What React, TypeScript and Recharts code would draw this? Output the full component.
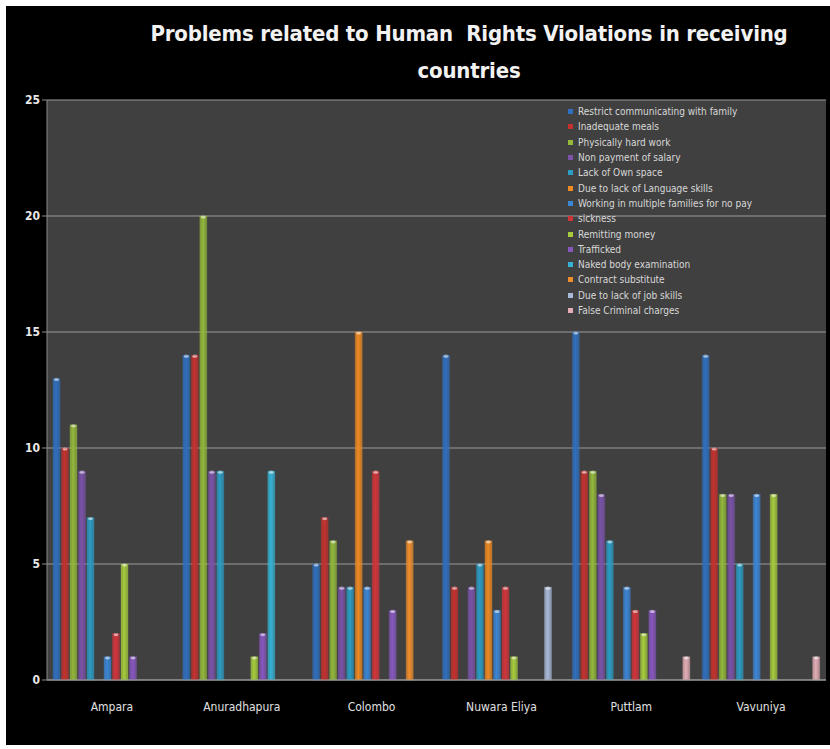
import { BarChart, Bar, XAxis, YAxis, CartesianGrid, Legend } from 'recharts'

const regions = ['Ampara', 'Anuradhapura', 'Colombo', 'Nuwara Eliya', 'Puttlam', 'Vavuniya']

const restrictComm = [13, 14, 5, 14, 15, 14]
const inadequateMeals = [10, 14, 7, 4, 9, 10]
const hardWork = [11, 20, 6, 0, 9, 8]
const nonPayment = [9, 9, 4, 4, 8, 8]
const ownSpace = [7, 9, 4, 5, 6, 5]
const languageSkills = [0, 0, 15, 6, 0, 0]
const multipleFamilies = [1, 0, 4, 3, 4, 8]
const sickness = [2, 0, 9, 4, 3, 0]
const remitting = [5, 1, 0, 1, 2, 8]
const trafficked = [1, 2, 3, 0, 3, 0]
const nakedBody = [0, 9, 0, 0, 0, 0]
const contractSub = [0, 0, 6, 0, 0, 0]
const jobSkills = [0, 0, 0, 4, 0, 0]
const falseCharges = [0, 0, 0, 0, 1, 1]

const yTicks = [0, 5, 10, 15, 20, 25]

const series = [
  { key: 's1', name: 'Restrict communicating with family', values: restrictComm, color: '#2f6fbf' },
  { key: 's2', name: 'Inadequate meals', values: inadequateMeals, color: '#c5312e' },
  { key: 's3', name: 'Physically hard work', values: hardWork, color: '#93b83a' },
  { key: 's4', name: 'Non payment of salary', values: nonPayment, color: '#7a52a8' },
  { key: 's5', name: 'Lack of Own  space', values: ownSpace, color: '#2b9cc4' },
  { key: 's6', name: 'Due to lack of  Language skills', values: languageSkills, color: '#ee8a22' },
  { key: 's7', name: 'Working in multiple families for no pay', values: multipleFamilies, color: '#3a86d6' },
  { key: 's8', name: 'sickness', values: sickness, color: '#d2343a' },
  { key: 's9', name: 'Remitting money', values: remitting, color: '#a6cc3c' },
  { key: 's10', name: 'Trafficked', values: trafficked, color: '#8757bf' },
  { key: 's11', name: 'Naked body examination', values: nakedBody, color: '#35b3d6' },
  { key: 's12', name: 'Contract substitute', values: contractSub, color: '#f18e2c' },
  { key: 's13', name: 'Due to lack of job skills', values: jobSkills, color: '#a9b9d9' },
  { key: 's14', name: 'False Criminal charges', values: falseCharges, color: '#e3aeb6' },
]

const data = regions.map((region, i) => {
  const row: Record<string, string | number> = { region }
  series.forEach((s) => {
    row[s.key] = s.values[i]
  })
  return row
})

const font = '"Liberation Sans Narrow", "DejaVu Sans Condensed", sans-serif'

function CylinderBar(props: any) {
  const { x, y, width, height, fill, gid } = props
  if (!height || height <= 0) return null
  return (
    <g>
      <rect x={x} y={y} width={width} height={height} fill={`url(#${gid})`} />
      <ellipse cx={x + width / 2} cy={y + 1} rx={width / 2 - 1} ry={1.6} fill="#ffffff" opacity={0.55} />
      <rect x={x} y={y} width={width} height={height} fill="none" stroke={fill} strokeOpacity={0.3} />
    </g>
  )
}

function LegendList() {
  return (
    <div style={{ fontFamily: font, fontSize: 10 }}>
      {series.map((s) => (
        <div key={s.key} style={{ display: 'flex', alignItems: 'center', height: 15.3, color: '#d8d8d8' }}>
          <span style={{ display: 'inline-block', width: 5, height: 5, background: s.color, marginRight: 5 }} />
          {s.name}
        </div>
      ))}
    </div>
  )
}

export default function App() {
  return (
    <div style={{ position: 'absolute', left: 0, top: 0, width: 830, height: 749, background: '#ffffff' }}>
      <div style={{ position: 'absolute', left: 6, top: 6, width: 824, height: 739, background: '#000000' }}>
        <div
          style={{
            position: 'absolute',
            left: 102,
            top: 9,
            width: 722,
            textAlign: 'center',
            color: '#f2f2f2',
            fontFamily: font,
            fontWeight: 'bold',
            fontSize: 22,
            lineHeight: '37px',
            letterSpacing: -0.2,
            whiteSpace: 'nowrap',
          }}
        >
          Problems related to Human&nbsp; Rights Violations in receiving
          <br />
          countries
        </div>
        <BarChart
          width={824}
          height={739}
          data={data}
          margin={{ top: 94, right: 4, bottom: 35, left: 6 }}
          barCategoryGap={6}
          barGap={1.5}
          style={{ position: 'absolute', left: 0, top: 0 }}
        >
          <defs>
            {series.map((s) => (
              <linearGradient key={s.key} id={`g-${s.key}`} x1="0" y1="0" x2="1" y2="0">
                <stop offset="0%" stopColor={s.color} stopOpacity={0.7} />
                <stop offset="45%" stopColor={s.color} stopOpacity={1} />
                <stop offset="100%" stopColor={s.color} stopOpacity={0.65} />
              </linearGradient>
            ))}
          </defs>
          <CartesianGrid vertical={false} fill="#404040" stroke="#9a9a9a" strokeWidth={1} />
          <XAxis
            dataKey="region"
            stroke="#9a9a9a"
            tickLine={false}
            tick={{ fill: '#e0e0e0', fontSize: 12, fontFamily: font }}
            tickMargin={16}
          />
          <YAxis
            domain={[0, 25]}
            ticks={yTicks}
            width={35}
            stroke="#8a8a8a"
            tickSize={5}
            tick={{ fill: '#e8e8e8', fontSize: 12, fontWeight: 'bold', fontFamily: font }}
          />
          <Legend
            layout="vertical"
            align="center"
            verticalAlign="middle"
            wrapperStyle={{ top: 98, left: 562, width: 260 }}
            content={() => <LegendList />}
          />
          {series.map((s) => (
            <Bar
              key={s.key}
              dataKey={s.key}
              name={s.name}
              fill={s.color}
              isAnimationActive={false}
              shape={(p: any) => <CylinderBar {...p} fill={s.color} gid={`g-${s.key}`} />}
            />
          ))}
        </BarChart>
      </div>
    </div>
  )
}
